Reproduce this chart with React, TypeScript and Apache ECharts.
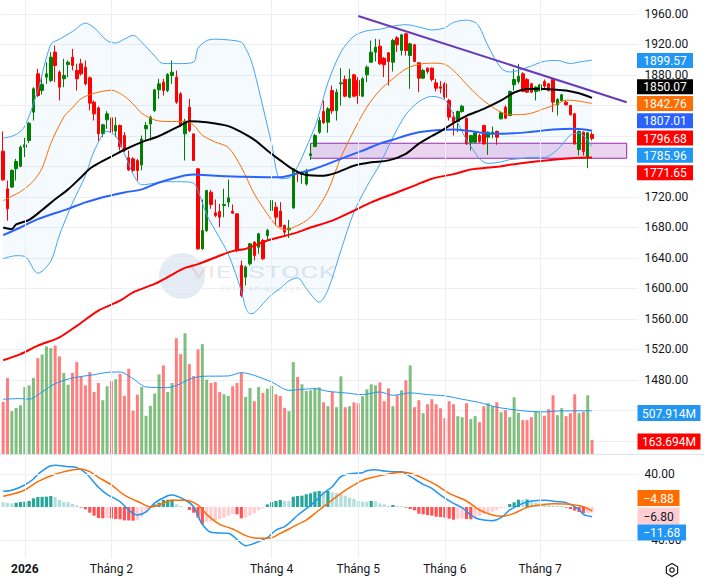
import React, { useEffect, useRef } from "react";
import * as echarts from "echarts";

const FONT = 'Roboto, "Noto Sans", "DejaVu Sans", sans-serif';

// ---------- categories / tick labels ----------
const SLOTS = 147; // 137 trading days + empty right margin
const categories = Array.from({ length: SLOTS }, (_, i) => String(i));
const monthTicks: [number, string][] = [
  [5, "2026"],
  [25, "Tháng 2"],
  [62, "Tháng 4"],
  [82, "Tháng 5"],
  [102, "Tháng 6"],
  [124, "Tháng 7"],
];
// price-axis ticks that sit under the coloured value tags (hidden, as in the reference)
const coveredPriceTicks: number[] = [1840, 1800, 1760, 1440, 1400];

// ---------- price (open, close, low, high) ----------
const ohlc: number[][] = [
  [1780, 1742.5, 1741, 1806], [1730.7, 1704.5, 1689, 1741.6], [1733, 1755, 1732, 1756], [1757, 1766.6, 1741.6, 1770],
  [1760.4, 1785.4, 1759, 1787.6], [1785.4, 1788.4, 1772.3, 1797.6], [1794, 1816.8, 1790.6, 1818.2], [1831.3, 1862, 1820.4, 1864],
  [1881.5, 1853, 1851, 1888], [1859.7, 1867.6, 1854.4, 1879.4], [1877.2, 1881.5, 1868.4, 1896.8], [1872.8, 1903.4, 1870.6, 1910],
  [1910, 1892.5, 1870.6, 1918.7], [1883.7, 1864, 1846.6, 1886], [1875, 1879.4, 1864, 1901.2], [1893.8, 1896.8, 1877.2, 1899],
  [1903.4, 1892.5, 1886, 1914.3], [1886, 1875, 1859.7, 1894.7], [1894.7, 1881.5, 1879.4, 1901.2], [1890.3, 1868.4, 1866.2, 1899],
  [1876.3, 1843.1, 1833.5, 1878], [1844.4, 1829.1, 1820.4, 1846.6], [1836.9, 1803, 1793.2, 1838.7], [1803, 1814.7, 1798.5, 1816],
  [1821.2, 1829.1, 1809.4, 1832.6], [1823.8, 1805, 1778.8, 1825.6], [1806.4, 1813.8, 1798.5, 1824.7], [1813.8, 1786, 1781, 1815],
  [1800.6, 1781, 1779, 1805], [1771.4, 1755.6, 1753.9, 1781], [1770, 1754.8, 1752.6, 1772.2], [1767.9, 1754.8, 1741.6, 1770],
  [1762, 1796, 1755, 1800.6], [1809.4, 1813.8, 1794.1, 1818.1], [1815.9, 1824.7, 1794.1, 1826.9], [1833.4, 1860.5, 1831.3, 1861.9],
  [1860.5, 1868.4, 1848.7, 1875], [1870.6, 1859.7, 1853.1, 1875], [1859.7, 1880.6, 1857.5, 1882.4], [1879.3, 1883.7, 1868.4, 1899],
  [1877.2, 1844.4, 1842.2, 1885.9], [1855.3, 1813.8, 1811.6, 1857.5], [1802.8, 1819.5, 1767.9, 1822.5], [1837.8, 1807.2, 1805, 1848.7],
  [1802.8, 1767.9, 1767.9, 1802.8], [1756.9, 1652, 1650.7, 1758.2], [1652, 1676, 1650.7, 1716.7], [1676, 1728.5, 1673.9, 1729.4],
  [1726.3, 1710.2, 1704.5, 1729.4], [1699.2, 1695.7, 1693.5, 1716.7], [1701, 1693.5, 1680.4, 1711], [1708.8, 1710.2, 1693.5, 1730.7],
  [1713.2, 1718.9, 1706.7, 1742.9], [1701.4, 1698.8, 1697.9, 1710.2], [1697.9, 1649.8, 1647.6, 1698.8], [1630.1, 1590.8, 1588.6, 1636.7],
  [1614.9, 1628, 1603.9, 1630.2], [1632.3, 1658.6, 1630.2, 1659.5], [1660.8, 1643.3, 1636.7, 1662.1], [1654.2, 1671.7, 1645.5, 1673],
  [1662.9, 1638.9, 1637.6, 1665.1], [1669.5, 1676.1, 1663.8, 1678.2], [1702.3, 1715.4, 1701.4, 1716.3], [1706.7, 1693.5, 1682.6, 1713.2],
  [1701.4, 1681.3, 1680.4, 1713.2], [1682.6, 1673.9, 1669.5, 1683.9], [1676.9, 1679.1, 1666.4, 1690], [1705.8, 1756.9, 1704.5, 1757.8],
  [1752.6, 1750.4, 1739.4, 1754.7], [1749.5, 1751.7, 1737.3, 1753.9], [1737, 1754, 1735, 1757], [1774.4, 1776.6, 1768.7, 1789.7],
  [1786.2, 1800.6, 1785.3, 1802.8], [1805, 1820.3, 1802.8, 1824.7], [1832.1, 1817.3, 1816, 1846.6], [1818.1, 1835.6, 1804.1, 1837.8],
  [1859.7, 1833, 1829, 1866.2], [1833, 1857.5, 1820.3, 1861.8], [1868.4, 1869.7, 1840, 1889], [1874.1, 1852.2, 1850.9, 1879.3],
  [1850.9, 1874.9, 1849.6, 1888], [1880.2, 1852.2, 1850.9, 1881.5], [1872.8, 1853.1, 1842.2, 1877.2], [1852.2, 1875, 1850.9, 1877.2],
  [1880.2, 1890.3, 1870.6, 1892.5], [1896.8, 1909.9, 1896, 1925.2], [1909.9, 1916.5, 1897.7, 1927.4], [1917.8, 1894.6, 1893.3, 1926.5],
  [1902.1, 1893.3, 1877.2, 1903.4], [1909.1, 1897.7, 1866.2, 1910], [1896.8, 1925.2, 1884.6, 1927.4], [1928.7, 1919.6, 1910, 1930.9],
  [1912.1, 1932.7, 1905.6, 1934], [1934, 1912.1, 1905.6, 1935.3], [1905.6, 1920.9, 1861.9, 1922.2], [1919.6, 1897.7, 1896.8, 1920.9],
  [1896, 1875.8, 1857.5, 1896.8], [1875.8, 1885.9, 1875, 1888.1], [1889, 1884.6, 1881.5, 1889.8], [1889, 1874.1, 1871.5, 1889.8],
  [1869.7, 1862.7, 1858.4, 1875], [1864.5, 1862.7, 1856, 1872], [1868.4, 1850.9, 1848.7, 1870.6], [1846.6, 1824.7, 1820.3, 1848.7],
  [1824.7, 1818.1, 1800.6, 1831.3], [1819, 1832.1, 1805, 1833.4], [1832.1, 1839.1, 1830.4, 1840.9], [1823.4, 1789.7, 1788.4, 1824.3],
  [1791.9, 1800.6, 1781, 1801.5], [1791.9, 1804.1, 1791, 1805.9], [1800.6, 1792.8, 1791, 1802.8], [1813.8, 1789.7, 1788.4, 1814.6],
  [1798.5, 1805, 1775.3, 1805.9], [1803.7, 1805, 1797.2, 1812.5], [1805.9, 1798.5, 1788.4, 1807.2], [1822.5, 1830.4, 1821.6, 1832.1],
  [1837.8, 1823.4, 1822.5, 1840], [1826.9, 1858.4, 1826, 1859.7], [1867.1, 1874.1, 1859.7, 1888.1], [1871.5, 1878.5, 1868.4, 1894.6],
  [1881.5, 1858.4, 1857.5, 1883.7], [1874.1, 1857.5, 1856.6, 1875.8], [1868.4, 1857.5, 1856.6, 1869.7], [1858.4, 1864, 1846.6, 1865.3],
  [1859.7, 1867.1, 1858.4, 1868.4], [1871.5, 1865.4, 1861.9, 1874.1], [1868.4, 1859.7, 1858.4, 1869.7], [1874.1, 1844.4, 1831.3, 1875],
  [1840.9, 1847.9, 1826.9, 1849.6], [1846.6, 1854, 1845.2, 1855.3], [1844.4, 1840.9, 1840, 1846.6], [1840, 1827.8, 1826.9, 1840.9],
  [1829.1, 1789.7, 1788.4, 1830.4], [1782.3, 1805.9, 1774.4, 1807.2], [1805, 1779.7, 1774.4, 1805.9], [1772.2, 1804.1, 1757.8, 1805],
  [1802, 1796.68, 1794.1, 1805],
];

// ---------- volume (millions) ----------
const volumes: number[] = [
  612, 893, 503, 542, 573, 788, 807, 893, 1127, 1170,
  1264, 1244, 1275, 1147, 952, 815, 952, 1080, 905, 807,
  963, 729, 835, 632, 796, 854, 878, 940, 683, 1002,
  507, 698, 788, 449, 566, 710, 936, 1041, 729, 835,
  1361, 1174, 1420, 1057, 917, 1229, 1291, 874, 835, 846,
  729, 702, 683, 796, 835, 956, 671, 776, 620, 788,
  718, 768, 800, 702, 683, 542, 503, 1080, 905, 819,
  741, 749, 776, 784, 608, 562, 729, 550, 913, 550,
  562, 608, 597, 679, 761, 819, 807, 842, 620, 772,
  562, 690, 749, 866, 1041, 550, 632, 480, 585, 644,
  585, 538, 421, 620, 585, 445, 433, 597, 410, 445,
  374, 562, 597, 562, 608, 491, 515, 433, 667, 484,
  398, 398, 433, 503, 503, 449, 527, 690, 456, 538,
  445, 480, 702, 480, 495, 690, 163.694,
];
const volumeMA: [number, number][] = [
  [0, 644], [4, 651], [6, 644], [9, 729], [12, 827], [16, 893], [21, 932], [25, 963], [27, 963], [30, 885],
  [33, 788], [38, 780], [41, 827], [43, 878], [46, 913], [52, 917], [55, 956], [58, 924], [62, 846], [66, 749],
  [69, 760], [72, 768], [75, 737], [79, 718], [83, 698], [87, 729], [90, 690], [94, 718], [98, 698], [102, 683],
  [106, 644], [110, 605], [114, 550], [117, 527], [121, 503], [125, 495], [129, 507], [133, 507], [136, 507.914],
];

// ---------- Bollinger bands ----------
const bbIdx: number[] = [
  0, 3, 5, 8, 11, 13, 16, 19, 21, 24, 26, 28, 30, 32, 35, 37, 41, 44, 45, 47,
  49, 52, 55, 56, 57, 58, 60, 62, 64, 66, 68, 70, 72, 73, 75, 78, 81, 84, 87, 90,
  93, 96, 99, 102, 104, 107, 109, 110, 112, 115, 117, 119, 122, 125, 128, 131, 133, 136,
];
const bbUpper: number[] = [
  1797, 1802, 1813, 1860, 1920, 1927, 1937, 1948, 1942, 1925, 1922, 1927, 1932, 1923, 1905, 1895, 1895, 1897, 1915, 1925,
  1927, 1926, 1923, 1915, 1903, 1885, 1838, 1790, 1744, 1745, 1760, 1785, 1812, 1830, 1870, 1910, 1931, 1938, 1940, 1944,
  1946, 1943, 1939, 1942, 1949, 1952, 1949, 1943, 1918, 1889, 1884, 1886, 1892, 1898, 1899, 1895, 1897, 1899.57,
];
const bbLower: number[] = [
  1639, 1643, 1642, 1620, 1636, 1670, 1712, 1748, 1780, 1806, 1800, 1777, 1750, 1736, 1738, 1740, 1740, 1738, 1728, 1697,
  1676, 1645, 1597, 1575, 1567, 1568, 1580, 1592, 1600, 1610, 1614, 1600, 1586, 1582, 1598, 1650, 1700, 1734, 1763, 1798,
  1828, 1845, 1852, 1847, 1828, 1795, 1778, 1770, 1764, 1766, 1769, 1770, 1772, 1772, 1782, 1801, 1804, 1785.96,
];
const bbBasis: [number, number][] = [
  [0, 1715], [2, 1721], [4, 1727], [7, 1741], [9, 1758], [11, 1790], [14, 1825], [16, 1837], [18, 1849], [21, 1856],
  [25, 1860], [28, 1852], [30, 1842], [32, 1830], [35, 1821], [38, 1819], [42, 1819], [44, 1814], [46, 1801], [49, 1792],
  [52, 1785], [55, 1759], [58, 1724], [61, 1698], [63, 1683], [65, 1677], [67, 1680], [70, 1689], [72, 1700], [75, 1728],
  [78, 1772], [81, 1807], [84, 1838], [87, 1860], [90, 1875], [93, 1888], [96, 1894], [99, 1895.5], [102, 1894], [104, 1886],
  [107, 1868], [110, 1851], [113, 1838], [116, 1829], [119, 1828], [122, 1830], [125, 1836], [128, 1842], [130, 1847], [132, 1846.5],
  [136, 1842.76],
];

// ---------- moving averages ----------
const ma50: [number, number][] = [
  [0, 1680], [2, 1678], [3, 1684], [6, 1690], [9, 1703], [12, 1717], [15, 1730], [18, 1746], [20, 1757], [22, 1764],
  [25, 1773], [28, 1782], [32, 1792], [36, 1800], [41, 1814], [43, 1819.5], [47, 1818], [52, 1813], [55, 1805], [58, 1795],
  [61, 1781], [64, 1768], [67, 1756], [70, 1749], [74, 1748], [77, 1752], [81, 1761], [85, 1765.5], [89, 1768], [93, 1776.6],
  [96, 1790], [99, 1800], [101, 1806], [104, 1817], [107, 1826.5], [111, 1835.6], [115, 1846.6], [118, 1857], [121, 1861.5], [124, 1862],
  [127, 1861], [130, 1859.7], [133, 1856], [136, 1850.07],
];
const ma100: [number, number][] = [
  [0, 1670], [4, 1680], [8, 1691], [15, 1704.5], [19, 1713], [24, 1721], [28, 1726], [32, 1730], [36, 1739], [41, 1747],
  [44, 1749.5], [49, 1748], [56, 1746.5], [64, 1746], [68, 1751], [72, 1757], [75, 1763.5], [78, 1770], [81, 1776.6], [84, 1783],
  [87, 1790], [90, 1795], [93, 1800.6], [96, 1805], [100, 1807.5], [104, 1808.5], [108, 1806.5], [113, 1803], [118, 1803.5], [122, 1805.5],
  [127, 1808.5], [132, 1809.4], [136, 1807.01],
];
const ma200: [number, number][] = [
  [0, 1506], [4, 1514], [8, 1525], [13, 1536], [17, 1551], [22, 1571], [27, 1584], [30, 1595], [35, 1606], [38, 1615],
  [42, 1627], [45, 1632], [50, 1643], [53, 1649], [56, 1652], [61, 1663], [67, 1672], [71, 1680], [76, 1689], [81, 1702],
  [85, 1713], [90, 1724], [95, 1735], [99, 1744], [104, 1750], [108, 1756], [113, 1759], [118, 1763], [122, 1766], [127, 1769],
  [132, 1771], [136, 1771.65],
];

// ---------- annotations ----------
const trendLine: [number, number][] = [[82, 1957.4], [144, 1844.3]];
const zoneBox = { from: 71, to: 144, top: 1790.5, bottom: 1770.8 };

// ---------- MACD ----------
const macdLine: [number, number][] = [
  [0, 19], [2, 20.2], [5, 26.7], [7, 33.9], [8, 39.6], [11, 50.1], [12, 50.5], [15, 48.9], [17, 47.7], [19, 41.5],
  [22, 24], [24, 15.4], [27, 6.5], [29, -3.6], [31, -9.7], [33, -6], [35, 5], [38, 13.7], [39, 14.5], [42, 8.5],
  [44, 0.4], [45, -11], [46, -21], [48, -30.7], [52, -31.9], [53, -34.7], [55, -44], [56, -46.9], [58, -44], [61, -37.2],
  [63, -27.9], [65, -23.8], [67, -15], [68, -10], [70, -2], [72, 6.5], [74, 16.6], [76, 24.6], [78, 36.8], [80, 40],
  [83, 41.6], [84, 44], [86, 45.2], [88, 43.6], [90, 42.8], [92, 42.8], [94, 37], [97, 27.5], [99, 22.6], [101, 14.5],
  [104, 4.4], [106, -0.8], [108, -9.7], [110, -14.9], [113, -16.6], [115, -12.9], [117, -3.6], [120, 4.4], [122, 7.3], [125, 8.1],
  [128, 6.5], [130, 5.3], [133, -2.8], [134, -8.9], [136, -11.68],
];
const macdSignal: [number, number][] = [
  [0, 13], [2, 15.4], [5, 20.6], [8, 30.7], [12, 39.6], [15, 44], [18, 46.1], [20, 42.8], [22, 36], [25, 26.7],
  [28, 14.5], [32, 4.4], [34, 0], [36, 2.4], [39, 8.1], [42, 8.1], [45, 2.4], [47, -8.9], [50, -21], [53, -26.7],
  [56, -34.7], [59, -38], [62, -37.2], [64, -31.9], [66, -26.7], [68, -21], [70, -15.8], [73, -3.6], [77, 12.5], [80, 23.4],
  [83, 32.3], [86, 36.8], [89, 40], [92, 42], [94, 40.8], [97, 34.7], [100, 26.7], [103, 16.6], [107, 7.3], [110, -3.6],
  [113, -9.7], [115, -11.3], [118, -7.7], [121, -0.4], [124, 2.4], [127, 4.0], [130, 3.6], [134, 0.4], [136, -4.88],
];
const macdHist: number[] = [
  5.7, 4.8, 4.4, 5.3, 6.1, 6.5, 7.3, 10.5, 12.1, 12.3,
  12.5, 13.3, 12.1, 8.5, 6.1, 5.9, 3.6, 2.0, -0.8, -2.8,
  -6.9, -10.5, -13.3, -13.7, -13.5, -13.9, -14.5, -14.9, -16.2, -16.4,
  -16.6, -15.8, -11.7, -6.9, 1.2, 3.2, 5.3, 8.5, 8.9, 9.1,
  3.2, 1.2, 0.4, -3.6, -6.9, -12.9, -21, -17.8, -17.6, -15.8,
  -14.5, -12.9, -10.5, -8.5, -8.9, -13.7, -12.9, -10.5, -7.7, -4.0,
  -1.6, 3.2, 6.1, 7.3, 8.5, 7.3, 7.1, 12.5, 13.3, 13.7,
  15.4, 16.6, 18.6, 19.4, 19.0, 19.4, 17.8, 17.0, 15.4, 13.7,
  11.3, 9.7, 7.3, 6.5, 6.3, 7.3, 7.1, 4.4, 3.2, 1.2,
  2.4, 1.2, 1.0, -0.8, -2.4, -4.0, -8.1, -8.9, -9.7, -10.5,
  -11.7, -12.1, -12.9, -14.1, -15.4, -14.5, -13.7, -14.5, -14.9, -12.9,
  -10.9, -8.1, -6.5, -5.7, -4.0, -1.6, -0.8, 3.6, 5.7, 8.9,
  8.7, 9.1, 7.3, 5.7, 4.8, 4.4, 3.2, 2.0, 1.6, 1.2,
  -0.8, -2.4, -4.4, -6.2, -7.6, -7.4, -6.8,
];

// ---------- helpers ----------
const UP = "#008000";
const DOWN = "#ff0000";
const GRID = "#eceff3";
const TEXT = "#131722";
const last = <T,>(a: T[]) => a[a.length - 1];
const minus = (s: string) => s.replace("-", "\u2212");

function tag(x: number, y: number, w: number, h: number, text: string, bg: string, fg = "#ffffff") {
  return {
    type: "group",
    z: 100,
    children: [
      { type: "rect", z: 100, shape: { x, y, width: w, height: h }, style: { fill: bg } },
      {
        type: "text",
        z: 101,
        x: x + w / 2,
        y: y + h / 2 + 0.5,
        style: {
          text,
          fill: fg,
          font: `12px ${FONT}`,
          align: "center",
          verticalAlign: "middle",
          textAlign: "center",
          textVerticalAlign: "middle",
        },
      },
    ],
  };
}

function buildOption() {
  const left = 1;
  const width = SLOTS * 4.33;
  const lineBase = { type: "line", symbol: "none", silent: true, animation: false };

  const volData = volumes.map((v, i) => ({
    value: v,
    itemStyle: { color: ohlc[i][1] >= ohlc[i][0] ? "rgba(0,128,0,0.5)" : "rgba(255,0,0,0.5)" },
  }));
  const histData = macdHist.map((h, i) => {
    const prev = i > 0 ? macdHist[i - 1] : h + 1;
    const c = h >= 0 ? (h >= prev ? "#26a69a" : "#b2dfdb") : h < prev ? "#ff5252" : "#ffcdd2";
    return { value: h, itemStyle: { color: c } };
  });
  const tickMap = new Map(monthTicks);

  const lastClose = last(ohlc)[1];
  const priceTags = [
    tag(637, 53, 56, 15, last(bbUpper).toFixed(2), "#2196f3"),
    tag(637, 79.3, 56, 15, last(ma50)[1].toFixed(2), "#000000"),
    tag(637, 96, 56, 15, last(bbBasis)[1].toFixed(2), "#ff6d00"),
    tag(637, 113.3, 56, 15, last(ma100)[1].toFixed(2), "#2962ff"),
    tag(637, 130.6, 56, 15, lastClose.toFixed(2), "#ff0000"),
    tag(637, 147.8, 56, 15, last(bbLower).toFixed(2), "#2196f3"),
    tag(637, 165.2, 56, 15, last(ma200)[1].toFixed(2), "#ff0000"),
    tag(637.5, 405, 63, 16, last(volumeMA)[1].toFixed(3) + "M", "#2196f3"),
    tag(637.5, 433.5, 63, 16, last(volumes).toFixed(3) + "M", "#ff0000"),
    tag(637.5, 490, 42, 16, minus(last(macdSignal)[1].toFixed(2)), "#ff6d00"),
    tag(637.5, 507.5, 42, 17, minus(last(macdHist).toFixed(2)), "#ffcdd2", TEXT),
    tag(637.5, 524.5, 48.5, 16, minus(last(macdLine)[1].toFixed(2)), "#2196f3"),
  ];

  const hex = Array.from({ length: 6 }, (_, k) => {
    const a = (Math.PI / 3) * k + Math.PI / 6;
    return [672 + 6.5 * Math.cos(a), 570 + 6.5 * Math.sin(a)];
  });

  return {
    animation: false,
    backgroundColor: "#ffffff",
    textStyle: { fontFamily: FONT },
    grid: [
      { left, width, top: 0, height: 441 },
      { left, width, top: 300, height: 154 },
      { left, width, top: 474, height: 66 },
      { left, width, top: 0, height: 558 },
    ],
    xAxis: [0, 1, 2, 3].map((g) => ({
      type: "category",
      gridIndex: g,
      data: categories,
      boundaryGap: true,
      axisLine: { show: false },
      axisTick: { show: false },
      splitLine: { show: false },
      axisLabel:
        g === 3
          ? {
              show: true,
              interval: (idx: number) => tickMap.has(idx),
              formatter: (v: string) => {
                const t = tickMap.get(Number(v));
                if (!t) return "";
                return t === "2026" ? `{b|${t}}` : t;
              },
              color: TEXT,
              fontSize: 12,
              margin: 5,
              hideOverlap: false,
              rich: { b: { fontWeight: "bold", fontSize: 12, color: TEXT, fontFamily: FONT } },
            }
          : { show: false },
    })),
    yAxis: [
      {
        type: "value",
        gridIndex: 0,
        position: "right",
        min: 1400,
        max: 1978.36,
        interval: 40,
        axisLine: { show: false },
        axisTick: { show: false },
        axisLabel: {
          color: TEXT,
          fontSize: 12,
          margin: 7,
          showMaxLabel: false,
          formatter: (v: number) =>
            Math.abs(v % 40) < 1e-6 && !coveredPriceTicks.includes(Math.round(v)) ? v.toFixed(2) : "",
        },
        splitLine: { show: true, showMaxLine: false, lineStyle: { color: GRID, width: 1 } },
      },
      { type: "value", gridIndex: 1, min: 0, max: 1810, show: false, splitLine: { show: false } },
      {
        type: "value",
        gridIndex: 2,
        position: "right",
        min: -40,
        max: 40,
        interval: 40,
        axisLine: { show: false },
        axisTick: { show: false },
        splitLine: { show: false },
        axisLabel: {
          color: TEXT,
          fontSize: 12,
          margin: 7,
          formatter: (v: number) => (v === 0 ? "" : minus(v.toFixed(2))),
        },
      },
      { type: "value", gridIndex: 3, min: 0, max: 1, show: false, splitLine: { show: false } },
    ],
    series: [
      {
        ...lineBase,
        name: "vgrid",
        xAxisIndex: 3,
        yAxisIndex: 3,
        z: 0,
        data: [],
        markLine: {
          silent: true,
          symbol: ["none", "none"],
          label: { show: false },
          lineStyle: { color: GRID, type: "solid", width: 1 },
          data: monthTicks.map(([i]) => ({ xAxis: String(i) })),
          animation: false,
        },
      },
      {
        ...lineBase,
        name: "bbBase",
        xAxisIndex: 0,
        yAxisIndex: 0,
        stack: "bb",
        smooth: 0.3,
        z: 1,
        lineStyle: { opacity: 0 },
        data: bbIdx.map((i, k) => [String(i), bbLower[k]]),
      },
      {
        ...lineBase,
        name: "bbFill",
        xAxisIndex: 0,
        yAxisIndex: 0,
        stack: "bb",
        smooth: 0.3,
        z: 1,
        lineStyle: { opacity: 0 },
        areaStyle: { color: "rgba(33,150,243,0.06)" },
        data: bbIdx.map((i, k) => [String(i), bbUpper[k] - bbLower[k]]),
      },
      {
        type: "candlestick",
        name: "price",
        xAxisIndex: 0,
        yAxisIndex: 0,
        z: 3,
        barWidth: 3,
        silent: true,
        data: ohlc,
        itemStyle: { color: UP, color0: DOWN, borderColor: UP, borderColor0: DOWN, borderWidth: 1 },
        markArea: {
          silent: true,
          itemStyle: { color: "rgba(156,39,176,0.2)", borderColor: "#9c27b0", borderWidth: 1 },
          data: [
            [
              { xAxis: String(zoneBox.from), yAxis: zoneBox.top },
              { xAxis: String(zoneBox.to), yAxis: zoneBox.bottom },
            ],
          ],
        },
      },
      { ...lineBase, name: "bbUpper", xAxisIndex: 0, yAxisIndex: 0, z: 4, smooth: 0.3, lineStyle: { color: "#42a5f5", width: 1 }, data: bbIdx.map((i, k) => [String(i), bbUpper[k]]) },
      { ...lineBase, name: "bbLower", xAxisIndex: 0, yAxisIndex: 0, z: 4, smooth: 0.3, lineStyle: { color: "#42a5f5", width: 1 }, data: bbIdx.map((i, k) => [String(i), bbLower[k]]) },
      { ...lineBase, name: "basis", xAxisIndex: 0, yAxisIndex: 0, z: 4, smooth: 0.3, lineStyle: { color: "#ff6d00", width: 1 }, data: bbBasis.map(([i, v]) => [String(i), v]) },
      { ...lineBase, name: "ma200", xAxisIndex: 0, yAxisIndex: 0, z: 4, smooth: 0.3, lineStyle: { color: "#ff0000", width: 2 }, data: ma200.map(([i, v]) => [String(i), v]) },
      { ...lineBase, name: "ma100", xAxisIndex: 0, yAxisIndex: 0, z: 4, smooth: 0.3, lineStyle: { color: "#2962ff", width: 2 }, data: ma100.map(([i, v]) => [String(i), v]) },
      { ...lineBase, name: "ma50", xAxisIndex: 0, yAxisIndex: 0, z: 4, smooth: 0.3, lineStyle: { color: "#000000", width: 2 }, data: ma50.map(([i, v]) => [String(i), v]) },
      { ...lineBase, name: "trend", xAxisIndex: 0, yAxisIndex: 0, z: 5, lineStyle: { color: "#673ab7", width: 2 }, data: trendLine.map(([i, v]) => [String(i), v]) },
      {
        type: "bar",
        name: "volume",
        xAxisIndex: 1,
        yAxisIndex: 1,
        barWidth: 3,
        silent: true,
        z: 2,
        data: volData,
      },
      { ...lineBase, name: "volMA", xAxisIndex: 1, yAxisIndex: 1, z: 4, smooth: 0.3, lineStyle: { color: "#2196f3", width: 1 }, data: volumeMA.map(([i, v]) => [String(i), v]) },
      {
        type: "bar",
        name: "hist",
        xAxisIndex: 2,
        yAxisIndex: 2,
        barWidth: 3.2,
        silent: true,
        z: 2,
        data: histData,
        markLine: {
          silent: true,
          symbol: ["none", "none"],
          label: { show: false },
          lineStyle: { color: GRID, type: "solid", width: 1 },
          data: [{ yAxis: 40 }, { yAxis: -40 }],
          animation: false,
        },
      },
      { ...lineBase, name: "macd", xAxisIndex: 2, yAxisIndex: 2, z: 4, clip: false, smooth: 0.3, lineStyle: { color: "#2196f3", width: 1.5 }, data: macdLine.map(([i, v]) => [String(i), v]) },
      { ...lineBase, name: "signal", xAxisIndex: 2, yAxisIndex: 2, z: 4, clip: false, smooth: 0.3, lineStyle: { color: "#ff6d00", width: 1.5 }, data: macdSignal.map(([i, v]) => [String(i), v]) },
    ],
    graphic: [
      // watermark
      { type: "circle", z: 0, silent: true, shape: { cx: 182, cy: 276, r: 23 }, style: { fill: "rgba(90,130,185,0.16)" } },
      {
        type: "text",
        z: 0,
        silent: true,
        x: 190,
        y: 273,
        scaleX: 1.75,
        style: {
          text: "{r|VI}{b|ETSTOCK}",
          rich: {
            r: { fill: "rgba(225,80,80,0.16)", font: `16px ${FONT}` },
            b: { fill: "rgba(90,130,185,0.2)", font: `16px ${FONT}` },
          },
          verticalAlign: "middle",
          textVerticalAlign: "middle",
        },
      },
      {
        type: "text",
        z: 0,
        silent: true,
        x: 222,
        y: 288,
        style: { text: "r e f r e s h   a l w a y s", fill: "rgba(90,130,185,0.2)", font: `8px ${FONT}`, verticalAlign: "middle", textVerticalAlign: "middle" },
      },
      // pane separator
      { type: "line", z: 50, silent: true, shape: { x1: 0, y1: 454.5, x2: 704, y2: 454.5 }, style: { stroke: "#e0e3eb", lineWidth: 1 } },
      ...priceTags,
      // settings icon
      { type: "polygon", z: 100, silent: true, shape: { points: hex }, style: { fill: "none", stroke: TEXT, lineWidth: 1.2 } },
      { type: "circle", z: 100, silent: true, shape: { cx: 672, cy: 570, r: 2.2 }, style: { fill: "none", stroke: TEXT, lineWidth: 1.2 } },
    ],
  };
}

export default function App() {
  const ref = useRef<HTMLDivElement>(null);
  useEffect(() => {
    if (!ref.current) return;
    const chart = echarts.init(ref.current, null, { renderer: "svg" });
    chart.setOption(buildOption() as any);
    return () => chart.dispose();
  }, []);
  return (
    <div
      ref={ref}
      style={{ position: "fixed", left: 0, top: 0, width: 704, height: 579, background: "#ffffff" }}
    />
  );
}
